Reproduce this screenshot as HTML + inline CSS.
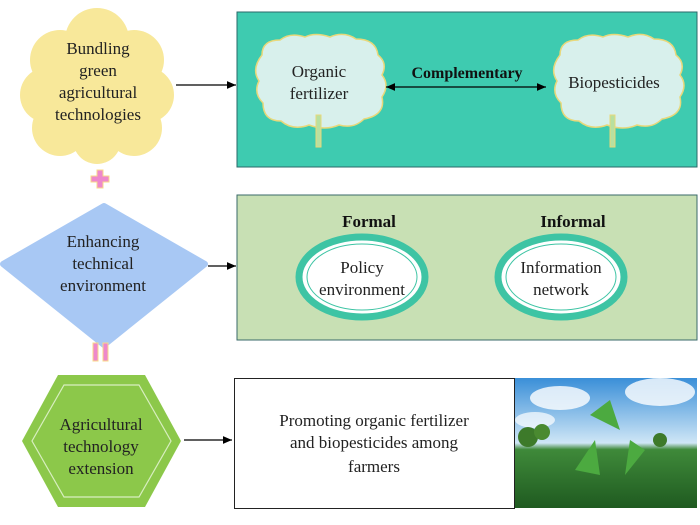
<!DOCTYPE html>
<html><head><meta charset="utf-8"><style>
body{margin:0;background:#fff;}
svg{display:block;font-family:"Liberation Serif",serif;}
</style></head><body>
<svg width="700" height="525" viewBox="0 0 700 525" xmlns="http://www.w3.org/2000/svg">
<defs>
<marker id="a" markerWidth="8" markerHeight="8" refX="7" refY="4" orient="auto"><path d="M0,1 L7,4 L0,7 z" fill="#000"/></marker>
<marker id="b" markerWidth="8" markerHeight="8" refX="1" refY="4" orient="auto"><path d="M8,1 L1,4 L8,7 z" fill="#000"/></marker>
<linearGradient id="sky" x1="0" y1="0" x2="0" y2="1"><stop offset="0" stop-color="#3a8fd8"/><stop offset="0.5" stop-color="#cfe6f6"/><stop offset="0.55" stop-color="#3f8a3a"/><stop offset="1" stop-color="#1f5a20"/></linearGradient>
</defs>
<!-- yellow cloud -->
<g fill="#f8e89a">
<circle cx="97" cy="40" r="32"/><circle cx="60" cy="60" r="30"/><circle cx="134" cy="60" r="30"/>
<circle cx="48" cy="95" r="28"/><circle cx="146" cy="95" r="28"/><circle cx="60" cy="128" r="28"/><circle cx="134" cy="128" r="28"/>
<circle cx="97" cy="140" r="24"/><rect x="45" y="40" width="105" height="110"/></g>
<text font-size="17" text-anchor="middle" fill="#222"><tspan x="98" y="54">Bundling</tspan><tspan x="98" y="76">green</tspan><tspan x="98" y="98">agricultural</tspan><tspan x="98" y="120">technologies</tspan></text>
<line x1="176" y1="85" x2="236" y2="85" stroke="#000" stroke-width="1.3" marker-end="url(#a)"/>
<!-- plus -->
<path d="M97,170h6v6h6v6h-6v6h-6v-6h-6v-6h6z" fill="#ee88cc" stroke="#f8d88a" stroke-width="1"/>
<!-- top box -->
<rect x="237" y="15" width="461" height="208" fill="none"/>
<rect x="237" y="12" width="460" height="155" fill="#3ecbb0" stroke="#2a6a6a" stroke-width="1"/>
<g fill="#d8f0ec" stroke="#e8d87a" stroke-width="1.5">
<path d="M262,55 q0,-15 18,-15 q10,-8 25,-3 q10,-5 25,0 q14,-6 26,2 q20,0 22,16 q10,8 4,20 q8,10 0,22 q4,18 -18,22 q-10,10 -25,6 q-14,6 -30,0 q-16,6 -28,-4 q-18,0 -18,-18 q-10,-10 -4,-22 q-8,-12 3,-26z"/>
<path d="M560,55 q0,-15 18,-15 q10,-8 25,-3 q10,-5 25,0 q14,-6 26,2 q20,0 22,16 q10,8 4,20 q8,10 0,22 q4,18 -18,22 q-10,10 -25,6 q-14,6 -30,0 q-16,6 -28,-4 q-18,0 -18,-18 q-10,-10 -4,-22 q-8,-12 3,-26z"/>
</g>
<rect x="316" y="115" width="5" height="32" fill="#b8e0a0" stroke="#e8d87a"/>
<rect x="610" y="115" width="5" height="32" fill="#b8e0a0" stroke="#e8d87a"/>
<text font-size="17" text-anchor="middle" fill="#222"><tspan x="319" y="77">Organic</tspan><tspan x="319" y="99">fertilizer</tspan><tspan x="614" y="88">Biopesticides</tspan></text>
<text x="467" y="78" font-size="16" font-weight="bold" text-anchor="middle" fill="#111">Complementary</text>
<line x1="386" y1="87" x2="546" y2="87" stroke="#000" stroke-width="1.3" marker-start="url(#b)" marker-end="url(#a)"/>
<!-- diamond -->
<path d="M104,206 L205,264 L104,345 L3,264 z" fill="#a8c8f4" stroke="#a8c8f4" stroke-linejoin="round" stroke-width="6"/>
<text font-size="17" text-anchor="middle" fill="#222"><tspan x="103" y="247">Enhancing</tspan><tspan x="103" y="269">technical</tspan><tspan x="103" y="291">environment</tspan></text>
<line x1="208" y1="266" x2="236" y2="266" stroke="#000" stroke-width="1.3" marker-end="url(#a)"/>
<!-- green box -->
<rect x="237" y="195" width="460" height="145" fill="#c8e0b4" stroke="#3a6a6a" stroke-width="1"/>
<text font-size="17" font-weight="bold" text-anchor="middle" fill="#111"><tspan x="369" y="227">Formal</tspan><tspan x="573" y="227">Informal</tspan></text>
<ellipse cx="362" cy="277" rx="63" ry="40" fill="#fff" stroke="#3ec4a4" stroke-width="7"/>
<ellipse cx="362" cy="277" rx="55" ry="33" fill="none" stroke="#3ec4a4" stroke-width="1"/>
<ellipse cx="561" cy="277" rx="63" ry="40" fill="#fff" stroke="#3ec4a4" stroke-width="7"/>
<ellipse cx="561" cy="277" rx="55" ry="33" fill="none" stroke="#3ec4a4" stroke-width="1"/>
<text font-size="17" text-anchor="middle" fill="#222"><tspan x="362" y="273">Policy</tspan><tspan x="362" y="295">environment</tspan><tspan x="561" y="273">Information</tspan><tspan x="561" y="295">network</tspan></text>
<!-- equals -->
<rect x="93" y="343" width="5" height="18" fill="#ee88cc" stroke="#f8d88a"/>
<rect x="103" y="343" width="5" height="18" fill="#ee88cc" stroke="#f8d88a"/>
<!-- hexagon -->
<path d="M58,375 L145,375 L181,441 L145,507 L58,507 L22,441 z" fill="#8cc84a"/>
<path d="M64,385 L139,385 L171,441 L139,497 L64,497 L32,441 z" fill="none" stroke="#d8eec0" stroke-width="1.2"/>
<text font-size="17" text-anchor="middle" fill="#222"><tspan x="101" y="430">Agricultural</tspan><tspan x="101" y="452">technology</tspan><tspan x="101" y="474">extension</tspan></text>
<line x1="184" y1="440" x2="232" y2="440" stroke="#000" stroke-width="1.3" marker-end="url(#a)"/>
<!-- white box -->
<rect x="234.5" y="378.5" width="280" height="130" fill="#fff" stroke="#222" stroke-width="1"/>
<text font-size="17" text-anchor="middle" fill="#222"><tspan x="374" y="426">Promoting organic fertilizer</tspan><tspan x="374" y="448">and biopesticides among</tspan><tspan x="374" y="472">farmers</tspan></text>
<!-- photo -->
<rect x="515" y="378" width="182" height="130" fill="url(#sky)"/>
<ellipse cx="560" cy="398" rx="30" ry="12" fill="#fff" opacity="0.8"/>
<ellipse cx="660" cy="392" rx="35" ry="14" fill="#fff" opacity="0.8"/>
<ellipse cx="535" cy="420" rx="20" ry="8" fill="#fff" opacity="0.7"/>
<circle cx="528" cy="437" r="10" fill="#3d7a2a"/><circle cx="542" cy="432" r="8" fill="#4a8a30"/>
<circle cx="660" cy="440" r="7" fill="#3d7a2a"/>
<path d="M590,415 L610,400 L620,430 z M575,470 L595,440 L600,475 z M625,475 L645,450 L630,440 z" fill="#4caa40"/>
</svg>
</body></html>
